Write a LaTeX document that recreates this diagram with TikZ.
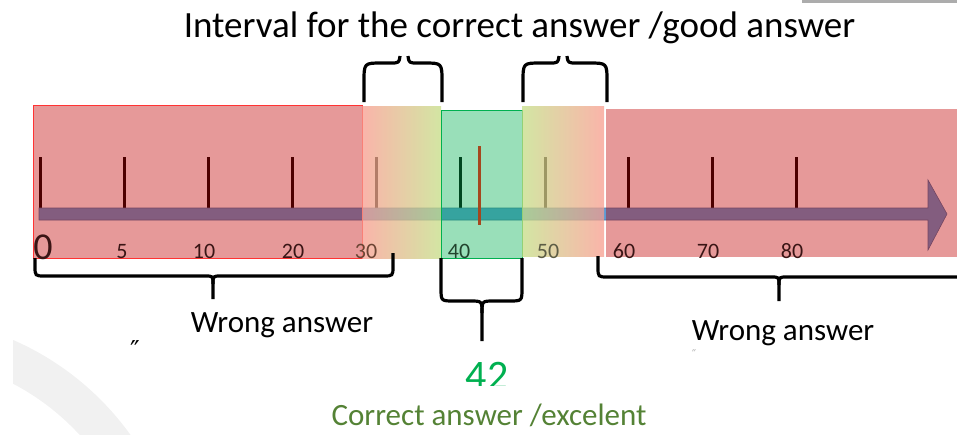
\documentclass[tikz,border=0pt]{standalone}
\usepackage{fontspec}
\setmainfont{Carlito}
\newfontfamily\dejavu{DejaVu Sans}
\definecolor{redov}{HTML}{C00000}
\definecolor{redline}{HTML}{FF3333}
\definecolor{greenov}{HTML}{00B050}
\definecolor{barblue}{HTML}{5B9BD5}
\definecolor{gpink}{HTML}{F89B8D}
\definecolor{gyellow}{HTML}{F5D465}
\definecolor{ggreen}{HTML}{C4DD84}
\definecolor{okgreen}{HTML}{548235}
\definecolor{tickor}{HTML}{A5471E}
\definecolor{lblred}{HTML}{3A1515}
\definecolor{lblmid}{HTML}{6B4433}
\definecolor{lblgreen}{HTML}{22442E}
\definecolor{lblolive}{HTML}{5C5C45}
\definecolor{ringgrey}{HTML}{F1F1F1}
\begin{document}
\begin{tikzpicture}[x=1pt,y=-1pt,
  brace/.style={line width=3.2pt, black, line join=round},
  tickmark/.style={line width=3pt, black},
  redzone/.style={fill=redov, fill opacity=0.4},
  greenzone/.style={fill=greenov, fill opacity=0.4},
  numlbl/.style={anchor=base, inner sep=0pt, font=\fontsize{22}{24}\selectfont},
  bigtext/.style={anchor=base, inner sep=0pt, font=\fontsize{31}{34}\selectfont},
]
\useasboundingbox (0,0) rectangle (957,434);

% slide decorations
\fill[gray!65] (802,0) rectangle (957,3);
\begin{scope}
  \clip (13,320) rectangle (400,434);
  \fill[ringgrey, even odd rule] (-100,600) circle (283.5pt) (-100,600) circle (244pt);
\end{scope}

% ticks (under overlays)
\foreach \tx in {40,124,208,292,376,460,545,628,712,796}
  \draw[tickmark] (\tx,157) -- (\tx,214);

% axis arrow
\fill[barblue, draw=barblue!75!black, line width=0.6pt]
  (39,208) -- (928,208) -- (928,180) -- (947,214) -- (928,250) -- (928,220) -- (39,220) -- cycle;

% zones
\fill[redzone] (33,105) rectangle (362,258);
\draw[redline, line width=0.9pt] (33,105) rectangle (362,258);
\shade[left color=gpink, middle color=gyellow, right color=ggreen, fill opacity=0.75] (362,106) rectangle (441,258);
\fill[greenzone] (441,110) rectangle (522,258);
\draw[greenov, line width=0.9pt] (441,110) rectangle (522,258);
\shade[left color=ggreen, middle color=gyellow, right color=gpink, fill opacity=0.75] (522,106) rectangle (604,256);
\fill[redzone] (606,109) rectangle (957,257);

% the answer tick
\draw[line width=3pt, tickor] (479,146) -- (479,225);

% axis labels
\node[anchor=base, inner sep=0pt, font=\fontsize{38}{40}\selectfont, text=lblred] (l0) at (43,259) {0};
\node[numlbl, text=lblred] (l5) at (122,258) {5};
\node[numlbl, text=lblred] (l10) at (204,258) {10};
\node[numlbl, text=lblred] (l20) at (293,258) {20};
\node[numlbl, text=lblmid] (l30) at (366,258) {30};
\node[numlbl, text=lblgreen] (l40) at (459,258) {40};
\node[numlbl, text=lblolive] (l50) at (548,258) {50};
\node[numlbl, text=lblred] (l60) at (624,258) {60};
\node[numlbl, text=lblred] (l70) at (708,258) {70};
\node[numlbl, text=lblred] (l80) at (792,258) {80};

% braces above
\draw[brace] (364,102) -- (364,82) .. controls (364,63) .. (382,63) -- (390,63) .. controls (399,63) .. (400,56);
\draw[brace] (442,102) -- (442,82) .. controls (442,63) .. (424,63) -- (418,63) .. controls (409,63) .. (408,56);
\draw[brace] (523,102) -- (523,82) .. controls (523,63) .. (541,63) -- (549,63) .. controls (558,63) .. (559,56);
\draw[brace] (607,102) -- (607,82) .. controls (607,63) .. (589,63) -- (577,63) .. controls (568,63) .. (567,56);

% braces below
\draw[brace] (35,258) -- (35,266) .. controls (35,276) .. (45,276) -- (205,276) .. controls (213,276) .. (213,284) -- (213,299);
\draw[brace] (393,253) -- (393,266) .. controls (393,276) .. (383,276) -- (221,276) .. controls (213,276) .. (213,284);
\draw[brace] (441,258) -- (441,288) .. controls (441,301) .. (454,301) -- (470,301) .. controls (482,301) .. (482,313) -- (482,341);
\draw[brace] (522,258) -- (522,288) .. controls (522,301) .. (509,301) -- (494,301) .. controls (482,301) .. (482,313);
\draw[brace] (598,256) -- (598,267) .. controls (598,277) .. (608,277) -- (771,277) .. controls (779,277) .. (779,285) -- (779,301);
\draw[brace] (975,256) -- (975,267) .. controls (975,277) .. (965,277) -- (787,277) .. controls (779,277) .. (779,285);

% texts
\node[anchor=base, inner sep=0pt, font=\fontsize{37}{40}\selectfont] (title) at (519.5,37) {Interval for the correct answer /good answer};
\node[bigtext] (wrongl) at (282,332) {Wrong answer};
\node[bigtext] (wrongr) at (783,340) {Wrong answer};
\begin{scope}
  \clip (420,340) rectangle (560,385.5);
  \node[anchor=base, inner sep=0pt, font=\fontsize{42}{44}\selectfont, text=greenov] (n42) at (487,389.5) {42};
\end{scope}
\node[bigtext, text=okgreen] (correct) at (489,425) {Correct answer /excelent};
\node[anchor=base, inner sep=0pt, font=\dejavu\fontsize{26}{28}\selectfont] (mark1) at (135,359) {″};
\node[anchor=base, inner sep=0pt, font=\dejavu\fontsize{12}{14}\selectfont, text=gray!60] (mark2) at (694,358) {″};
\end{tikzpicture}
\end{document}
